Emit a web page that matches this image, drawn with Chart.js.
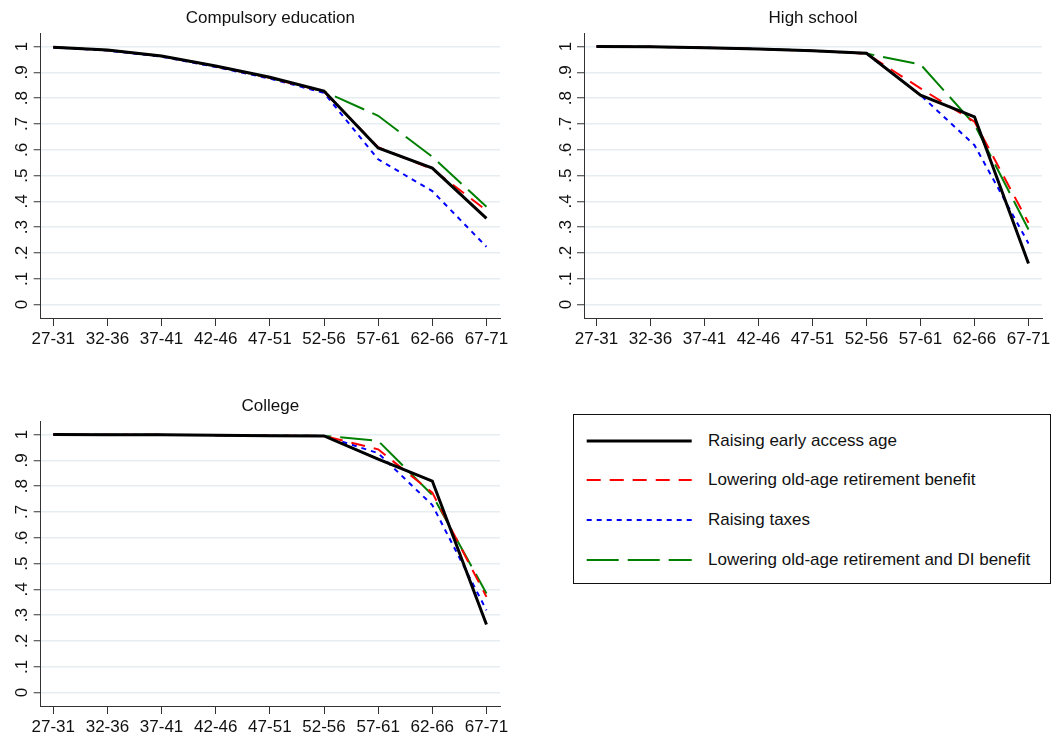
<!DOCTYPE html>
<html>
<head>
<meta charset="utf-8">
<script src="https://cdn.jsdelivr.net/npm/chart.js@4.4.1/dist/chart.umd.min.js"></script>
<style>
  html, body { margin: 0; padding: 0; background: #ffffff; overflow: hidden; }
  body { width: 1062px; height: 735px; position: relative; font-family: "Liberation Sans", Arial, sans-serif; }
  .panel { position: absolute; }
  .legend {
    position: absolute; left: 573px; top: 414px; width: 478px; height: 170px;
    box-sizing: border-box; border: 1px solid #111; background: #fff;
  }
  .legend .row { position: absolute; left: 0; width: 100%; height: 24px; }
  .legend svg { position: absolute; left: 12px; top: 0; }
  .legend span { position: absolute; left: 134px; top: 1px; font-size: 17px; line-height: 22px; color: #111; white-space: nowrap; }
</style>
</head>
<body>
<div class="panel" style="left:0px;top:0px;"><canvas id="cCompulsory" width="540" height="360"></canvas></div>
<div class="panel" style="left:544px;top:0px;"><canvas id="cHighSchool" width="518" height="360"></canvas></div>
<div class="panel" style="left:0px;top:388px;"><canvas id="cCollege" width="540" height="360"></canvas></div>
<div class="legend" id="legend"></div>

<script>
// Birth-cohort age groups on the horizontal axis
const ageGroups = ['27-31', '32-36', '37-41', '42-46', '47-51', '52-56', '57-61', '62-66', '67-71'];

// Vertical axis ticks
const yTickValues = [0, 0.1, 0.2, 0.3, 0.4, 0.5, 0.6, 0.7, 0.8, 0.9, 1];
const yTickLabels = ['0', '.1', '.2', '.3', '.4', '.5', '.6', '.7', '.8', '.9', '1'];

// Policy scenarios
const scenarioNames = [
  'Raising early access age',
  'Lowering old-age retirement benefit',
  'Raising taxes',
  'Lowering old-age retirement and DI benefit'
];

// Compulsory education
const compEarlyAccess = [0.998, 0.987, 0.964, 0.925, 0.881, 0.828, 0.607, 0.529, 0.334];
const compOldAgeBenefit = [0.998, 0.986, 0.963, 0.924, 0.879, 0.826, 0.610, 0.525, 0.365];
const compTaxes = [0.997, 0.985, 0.961, 0.921, 0.876, 0.821, 0.563, 0.440, 0.224];
const compOldAgeDI = [0.998, 0.986, 0.963, 0.924, 0.879, 0.826, 0.732, 0.573, 0.379];

// High school
const hsEarlyAccess = [1.000, 0.999, 0.996, 0.991, 0.984, 0.974, 0.812, 0.728, 0.159];
const hsOldAgeBenefit = [1.000, 0.999, 0.996, 0.991, 0.984, 0.973, 0.838, 0.709, 0.317];
const hsTaxes = [1.000, 0.999, 0.996, 0.991, 0.984, 0.973, 0.812, 0.618, 0.237];
const hsOldAgeDI = [1.000, 0.999, 0.996, 0.991, 0.984, 0.973, 0.931, 0.698, 0.291];

// College
const colEarlyAccess = [1.000, 0.9995, 0.999, 0.998, 0.996, 0.995, 0.905, 0.820, 0.264];
const colOldAgeBenefit = [1.000, 0.9995, 0.999, 0.998, 0.996, 0.995, 0.943, 0.775, 0.371];
const colTaxes = [1.000, 0.9995, 0.999, 0.998, 0.996, 0.995, 0.928, 0.727, 0.319];
const colOldAgeDI = [1.000, 0.9995, 0.999, 0.998, 0.996, 0.995, 0.976, 0.766, 0.384];

// Line styles per scenario
const lineStyles = [
  { color: '#000000', width: 3, dash: [] },
  { color: '#ff0000', width: 2, dash: [14, 9] },
  { color: '#0000ff', width: 2, dash: [5, 5] },
  { color: '#008000', width: 2, dash: [32, 9] }
];

const FONT = "'Liberation Sans', Arial, sans-serif";
const FONT_SIZE = 17;
const AXIS_COLOR = '#333333';
const GRID_COLOR = '#e6eef1';

function toPoints(values) {
  return values.map((v, i) => ({ x: i, y: v }));
}

function makePanel(canvasId, title, seriesList, yAxisWidth, rightPad) {
  const datasets = seriesList.map((values, k) => ({
    label: scenarioNames[k],
    data: toPoints(values),
    borderColor: lineStyles[k].color,
    borderWidth: lineStyles[k].width,
    borderDash: lineStyles[k].dash,
    borderCapStyle: 'butt',
    borderJoinStyle: 'miter',
    pointRadius: 0,
    pointHoverRadius: 0,
    fill: false,
    tension: 0
  }));

  return new Chart(document.getElementById(canvasId), {
    type: 'line',
    data: { datasets },
    options: {
      responsive: false,
      animation: false,
      events: [],
      layout: { padding: { left: 0, right: rightPad, top: 0, bottom: 0 } },
      plugins: {
        legend: { display: false },
        tooltip: { enabled: false },
        title: {
          display: true,
          text: title,
          fullSize: false,
          color: '#111111',
          font: { family: FONT, size: FONT_SIZE, weight: 'normal', lineHeight: 1.2 },
          padding: { top: 8, bottom: 4.8 }
        }
      },
      scales: {
        x: {
          type: 'linear',
          min: -0.232,
          max: 8.25,
          afterBuildTicks: (scale) => { scale.ticks = ageGroups.map((_, i) => ({ value: i })); },
          afterFit: (scale) => { scale.height = 42; scale.paddingLeft = 0; scale.paddingRight = 0; },
          border: { display: true, color: AXIS_COLOR, width: 1 },
          grid: { display: true, drawOnChartArea: false, drawTicks: true, tickLength: 8, tickColor: AXIS_COLOR, tickWidth: 1 },
          ticks: {
            autoSkip: false,
            maxRotation: 0,
            minRotation: 0,
            padding: 3,
            color: '#111111',
            font: { family: FONT, size: FONT_SIZE },
            callback: (value) => ageGroups[value]
          }
        },
        y: {
          type: 'linear',
          min: -0.052,
          max: 1.052,
          afterBuildTicks: (scale) => { scale.ticks = yTickValues.map(v => ({ value: v })); },
          afterFit: (scale) => { scale.width = yAxisWidth; scale.paddingTop = 0; scale.paddingBottom = 0; },
          border: { display: true, color: AXIS_COLOR, width: 1 },
          grid: { display: true, color: GRID_COLOR, lineWidth: 1.5, drawTicks: true, tickLength: 7, tickColor: AXIS_COLOR, tickWidth: 1 },
          ticks: {
            autoSkip: false,
            minRotation: 90,
            maxRotation: 90,
            crossAlign: 'center',
            padding: 4,
            color: '#111111',
            font: { family: FONT, size: FONT_SIZE },
            callback: (value, index) => yTickLabels[index]
          }
        }
      }
    }
  });
}

makePanel('cCompulsory', 'Compulsory education',
  [compEarlyAccess, compOldAgeBenefit, compTaxes, compOldAgeDI], 40.7, 40);
makePanel('cHighSchool', 'High school',
  [hsEarlyAccess, hsOldAgeBenefit, hsTaxes, hsOldAgeDI], 40, 20);
makePanel('cCollege', 'College',
  [colEarlyAccess, colOldAgeBenefit, colTaxes, colOldAgeDI], 40.7, 40);

// Shared legend for the three panels
const legendEl = document.getElementById('legend');
const rowCenters = [25.7, 65, 105, 144.7];
scenarioNames.forEach((name, k) => {
  const row = document.createElement('div');
  row.className = 'row';
  row.style.top = (rowCenters[k] - 12) + 'px';
  const st = lineStyles[k];
  const svgNS = 'http://www.w3.org/2000/svg';
  const svg = document.createElementNS(svgNS, 'svg');
  svg.setAttribute('width', '106');
  svg.setAttribute('height', '24');
  const ln = document.createElementNS(svgNS, 'line');
  ln.setAttribute('x1', '0.7');
  ln.setAttribute('x2', '105.7');
  ln.setAttribute('y1', '12');
  ln.setAttribute('y2', '12');
  ln.setAttribute('stroke', st.color);
  ln.setAttribute('stroke-width', String(st.width));
  if (st.dash.length) ln.setAttribute('stroke-dasharray', st.dash.join(' '));
  svg.appendChild(ln);
  const label = document.createElement('span');
  label.textContent = name;
  row.appendChild(svg);
  row.appendChild(label);
  legendEl.appendChild(row);
});
</script>
</body>
</html>
